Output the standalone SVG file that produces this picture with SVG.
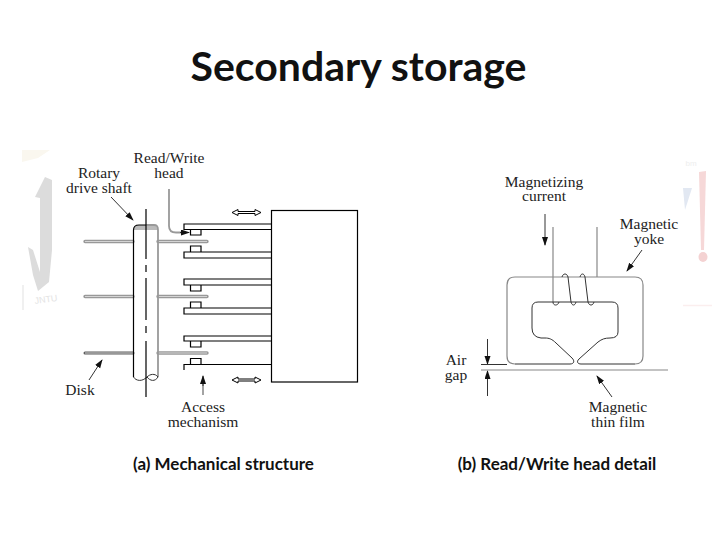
<svg xmlns="http://www.w3.org/2000/svg" width="720" height="540" viewBox="0 0 720 540">
<style>
.t{font-family:"Lato","Liberation Sans",sans-serif;font-weight:700;fill:#111;text-anchor:middle}
.c{font-size:17px}
.l{font-family:"Liberation Serif","Times New Roman",serif;font-size:15.500px;fill:#222;text-anchor:middle}
.k{fill:none;stroke:#000;stroke-width:1.2}
.g{fill:none;stroke:#888;stroke-width:1.2}
.g2{fill:none;stroke:#999;stroke-width:1.8}
.d{fill:none;stroke:#333;stroke-width:1}
.a{fill:#fff;stroke:#000;stroke-width:1}
.o{fill:none;stroke:#999;stroke-width:3.400;stroke-linecap:round}
.o3{fill:none;stroke:#5c5c5c;stroke-width:3;stroke-linecap:round}
.i{fill:none;stroke:#d4d4d4;stroke-width:1}
</style>
<defs>
<marker id="ah" markerWidth="9" markerHeight="7" refX="8" refY="3" orient="auto" markerUnits="userSpaceOnUse"><path d="M0,0L9,3L0,6z" fill="#111"/></marker>
</defs>
<rect width="720" height="540" fill="#fff"/>
<g id="watermark">
<path d="M22,150H50L38,158L22,162z" fill="#faf7ef"/>
<path d="M45,177L52,180L52,250L49,282L38,291L33,275L28,247L33,250L40,272L40,198L35,197z" fill="#dcdcdc"/>
<path d="M23,285V310" stroke="#f0f0f0" stroke-width="2"/>
<text x="35" y="304" font-family="Liberation Sans,sans-serif" font-size="9" fill="#e3e3e3" transform="rotate(-8 35 304)">JNTU</text>
<path d="M699,172L706,171L704,250H701z" fill="#f6d8d8"/>
<ellipse cx="703" cy="257" rx="4.500" ry="5" fill="#f4d2d2"/>
<path d="M683,188H692L685,210z" fill="#e2e8f2"/>
<path d="M683,305.500H712" stroke="#fbeeee" stroke-width="1.500"/>
<text x="691" y="166" font-family="Liberation Sans,sans-serif" font-size="8" fill="#eeeeee" text-anchor="middle">bm</text>
</g>
<g id="title"><text class="t" x="358.500" y="81" font-size="41">Secondary storage</text></g>
<g id="disks">
<path class="o" d="M85,241.500H133M158,241.500H207M85,296.500H133M158,296.500H207"/>
<path class="i" d="M85,241.500H133M158,241.500H207M85,296.500H133M158,296.500H207"/>
<path class="o3" d="M85,353H133"/>
<path class="o" d="M158,353H207"/>
<path class="i" d="M85,353H133M158,353H207"/>
</g>
<g id="shaft">
<path d="M134,230C134,226 136,225 139,225H154C157,225 158,226 158,230z" fill="#bbb"/>
<path class="k" d="M133.500,377V230C133.500,226 136,225 139,225H146"/>
<path class="g2" d="M146,225H154C157,225 158,226 158,230V377"/>
<path class="d" d="M133.500,377C136,381 142,382 147,377C150,374 155,373 158,377C155,382 150,381 147,377"/>
<path class="k" d="M146,209V259M146,265V272M146,278V320M146,326V333M146,341V397"/>
</g>
<g id="arms">
<path class="k" d="M272,224H184V229.500H272M272,252H184V258H272M272,279H184V285H272M272,308H184V314H272M272,336H184V341H272M272,364.500H184V370"/>
<path class="k" d="M190.500,229.500V235H201V229.500M190.500,252V246H201V252M190.500,285V291H201V285M190.500,308V302H201V308M190.500,341V347H201V341M190.500,364.500V358.500H201V364.500"/>
</g>
<g id="box"><rect class="k" x="271.500" y="210.500" width="86" height="171.500"/></g>
<g id="arrows">
<path class="a" d="M232,212.500L238,209.500V211.500H255V209.500L261,212.500L255,215.500V213.500H238V215.500z"/>
<path class="a" d="M232,380L238,377V379H255V377L261,380L255,383V381H238V383z"/>
</g>
<g id="connectors">
<path class="g2" d="M169,189V226C169,231 172,232.500 176,232.500H182"/>
<path class="d" d="M180,232.500H189" marker-end="url(#ah)"/>
<path class="d" d="M111,197L133,220" marker-end="url(#ah)"/>
<path class="d" d="M89,380L102,360" marker-end="url(#ah)"/>
<path class="g2" d="M203,395V382"/>
<path class="d" d="M203,386V376" marker-end="url(#ah)"/>
<path class="d" d="M545,214V245" marker-end="url(#ah)"/>
<path class="d" d="M642,250L627,271" marker-end="url(#ah)"/>
<path class="d" d="M612,397L597,376" marker-end="url(#ah)"/>
<path class="d" d="M487.500,339V364" marker-end="url(#ah)"/>
<path class="d" d="M487.500,396V371" marker-end="url(#ah)"/>
</g>
<g id="head">
<path class="g" d="M553,227V302"/>
<path class="g" d="M597,227V277"/>
<path class="g" d="M515,277H635Q643,277 643,285V356Q643,364 635,364M515,364Q507,364 507,356V285Q507,277 515,277"/>
<path class="d" d="M538,302H612Q618,302 618,308V332Q618,338 610,338C605,338 602,339 598,342L579,359C576,362 578,364 581,364H635M515,364H570C574,364 575,361 572,358L556,343C552,339 549,338 545,338H541Q532,337 532,328V308Q532,302 538,302"/>
<path class="d" d="M553,302C553,306 558,306 559,302"/>
<path class="d" d="M562,277C563,273 567,273 568,277L571,302C572,306 575,306 576,302"/>
<path class="d" d="M580,277C581,273 584,273 585,277L588,302C589,306 593,306 594,302"/>
<path class="g" d="M481,370H668"/>
<path class="d" d="M481,364.500H507"/>
</g>
<g id="labels">
<text class="l"><tspan x="169" y="163">Read/Write</tspan><tspan x="169" y="178">head</tspan></text>
<text class="l"><tspan x="99" y="178">Rotary</tspan><tspan x="99" y="193">drive shaft</tspan></text>
<text class="l" x="80" y="395">Disk</text>
<text class="l"><tspan x="203" y="412">Access</tspan><tspan x="203" y="427">mechanism</tspan></text>
<text class="l"><tspan x="544" y="187">Magnetizing</tspan><tspan x="544" y="201">current</tspan></text>
<text class="l"><tspan x="649" y="229">Magnetic</tspan><tspan x="649" y="244">yoke</tspan></text>
<text class="l"><tspan x="456" y="365">Air</tspan><tspan x="456" y="380">gap</tspan></text>
<text class="l"><tspan x="618" y="412">Magnetic</tspan><tspan x="618" y="427">thin film</tspan></text>
</g>
<g id="captions">
<text class="t c" x="223.500" y="470">(a) Mechanical structure</text>
<text class="t c" x="557" y="470">(b) Read/Write head detail</text>
</g>
</svg>
